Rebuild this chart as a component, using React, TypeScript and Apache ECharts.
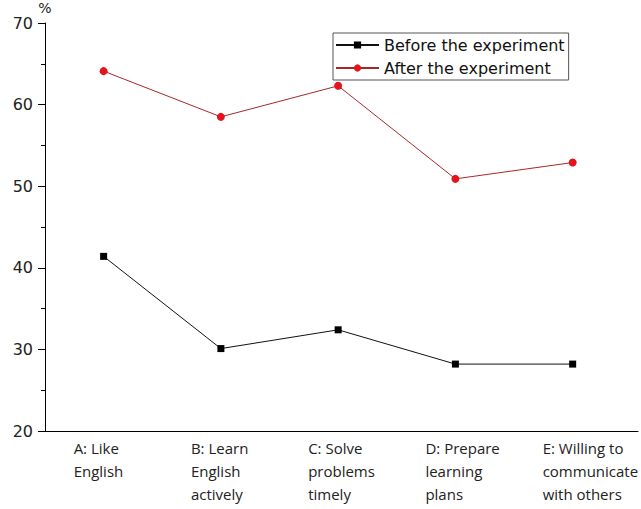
import React, { useEffect, useRef } from "react";
import * as echarts from "echarts";

const categories = [
  "A: Like\nEnglish",
  "B: Learn\nEnglish\nactively",
  "C: Solve\nproblems\ntimely",
  "D: Prepare\nlearning\nplans",
  "E: Willing to\ncommunicate\nwith others",
];
const beforeValues = [41.4, 30.1, 32.4, 28.2, 28.2];
const afterValues = [64.1, 58.5, 62.3, 50.9, 52.9];
const seriesNames = ["Before the experiment", "After the experiment"];
const yTicks = { min: 20, max: 70, interval: 10 };

export default function App() {
  const ref = useRef<HTMLDivElement>(null);
  useEffect(() => {
    document.body.style.margin = "0";
    const chart = echarts.init(ref.current!, null, { renderer: "svg" });
    const gridTop = 23;
    const gridBottom = 78;
    chart.setOption({
      animation: false,
      backgroundColor: "#ffffff",
      grid: [
        { left: 45, right: 8.5, top: gridTop, bottom: gridBottom },
        { left: 45, right: 3, top: gridTop, bottom: gridBottom },
      ],
      legend: {
        orient: "vertical",
        left: 333,
        top: 33,
        padding: [4, 4, 4, 2],
        itemGap: 7,
        itemWidth: 43,
        itemHeight: 9,
        borderColor: "#555",
        borderWidth: 1,
        data: seriesNames,
        textStyle: {
          fontFamily: "DejaVu Sans",
          fontSize: 16,
          lineHeight: 16,
          color: "#111",
        },
      },
      xAxis: [
        {
          type: "category",
          gridIndex: 0,
          data: categories,
          boundaryGap: true,
          axisLine: { show: false },
          axisTick: { show: false },
          splitLine: { show: false },
          axisLabel: {
            interval: 0,
            margin: 5,
            align: "center",
            formatter: (v: string) =>
              v
                .split("\n")
                .map((s) => `{l|${s}}`)
                .join("\n"),
            rich: {
              l: {
                width: 60,
                align: "left",
                fontFamily: "Open Sans",
                fontSize: 15,
                lineHeight: 23,
                color: "#222",
              },
            },
          },
        },
        {
          type: "value",
          gridIndex: 1,
          min: 0,
          max: 1,
          axisLine: { show: true, lineStyle: { color: "#000", width: 1 } },
          axisTick: { show: false },
          axisLabel: { show: false },
          splitLine: { show: false },
        },
      ],
      yAxis: [
        {
          type: "value",
          gridIndex: 0,
          min: yTicks.min,
          max: yTicks.max,
          interval: yTicks.interval,
          name: "%",
          nameLocation: "end",
          nameGap: 13,
          nameTextStyle: {
            fontFamily: "DejaVu Sans",
            fontSize: 14,
            color: "#222",
            verticalAlign: "top",
            align: "center",
          },
          axisLine: { show: true, lineStyle: { color: "#000", width: 1 } },
          axisTick: {
            show: true,
            inside: false,
            length: 7,
            lineStyle: { color: "#000" },
          },
          minorTick: {
            show: true,
            splitNumber: 2,
            length: 4,
            lineStyle: { color: "#000" },
          },
          splitLine: { show: false },
          axisLabel: {
            margin: 12,
            fontFamily: "DejaVu Sans",
            fontSize: 16,
            color: "#222",
          },
        },
        {
          type: "value",
          gridIndex: 1,
          min: 0,
          max: 1,
          show: false,
        },
      ],
      series: [
        {
          name: seriesNames[0],
          type: "line",
          xAxisIndex: 0,
          yAxisIndex: 0,
          data: beforeValues,
          symbol: "rect",
          symbolSize: 7,
          lineStyle: { color: "#111", width: 1 },
          itemStyle: { color: "#000" },
        },
        {
          name: seriesNames[1],
          type: "line",
          xAxisIndex: 0,
          yAxisIndex: 0,
          data: afterValues,
          symbol: "circle",
          symbolSize: 8,
          lineStyle: { color: "#a8282a", width: 1 },
          itemStyle: { color: "#e3141b" },
        },
      ],
    });
    return () => chart.dispose();
  }, []);
  return (
    <div
      ref={ref}
      style={{ position: "absolute", left: 0, top: 0, width: 641, height: 509 }}
    />
  );
}
